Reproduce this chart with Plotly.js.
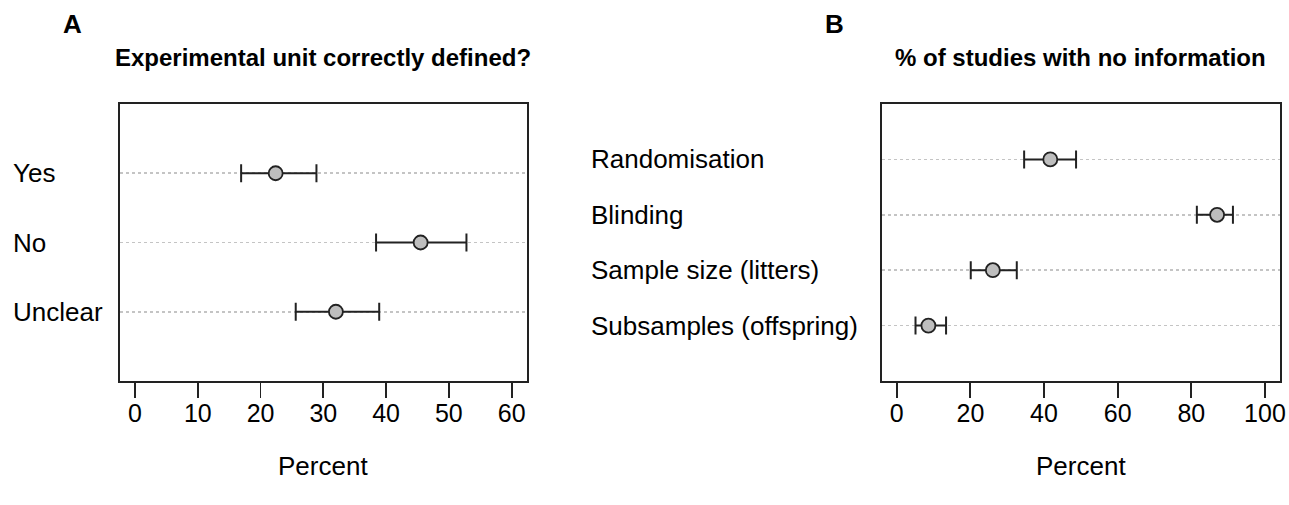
<!DOCTYPE html>
<html>
<head>
<meta charset="utf-8">
<script src="https://cdn.plot.ly/plotly-3.0.1.min.js"></script>
<style>html,body{margin:0;padding:0;background:#fff;}#chart{width:1289px;height:505px;}</style>
</head>
<body>
<div id="chart"></div>
<script>
// Panel A data
const catsA = ["Yes", "No", "Unclear"];
const estA = [22.4, 45.5, 32.0];
const lowA = [16.9, 38.4, 25.6];
const highA = [28.9, 52.8, 38.9];
const ticksA = [0, 10, 20, 30, 40, 50, 60];

// Panel B data
const catsB = ["Randomisation", "Blinding", "Sample size (litters)", "Subsamples (offspring)"];
const estB = [41.7, 87.0, 26.1, 8.6];
const lowB = [34.6, 81.5, 20.1, 5.1];
const highB = [48.7, 91.3, 32.6, 13.4];
const ticksB = [0, 20, 40, 60, 80, 100];

const titleA = "Experimental unit correctly defined?";
const titleB = "% of studies with no information";
const xTitle = "Percent";

const W = 1289, H = 505;
const FONT = '"Liberation Sans", Arial, Helvetica, sans-serif';
const LINE = '#222';

function trace(cats, est, low, high, xa, ya) {
  return {
    type: 'scatter', mode: 'markers',
    x: est, y: cats, xaxis: xa, yaxis: ya,
    error_x: {
      type: 'data', symmetric: false,
      array: est.map((v, i) => high[i] - v),
      arrayminus: est.map((v, i) => v - low[i]),
      color: LINE, thickness: 2, width: 9
    },
    marker: { symbol: 'circle', size: 14, color: '#bebebe', line: { color: LINE, width: 1.8 } },
    hoverinfo: 'none', showlegend: false
  };
}

const domY = [1 - 381 / H, 1 - 104 / H];
const domXA = [120 / W, 526.7 / W];
const domXB = [882 / W, 1279.7 / W];

function xaxis(dom, range, ticks, anchor) {
  return {
    domain: dom, range: range, anchor: anchor,
    tickmode: 'array', tickvals: ticks, ticktext: ticks.map(String),
    ticks: 'outside', ticklen: 15, tickwidth: 1.8, tickcolor: LINE,
    ticklabelstandoff: -6,
    showline: true, mirror: true, linecolor: LINE, linewidth: 2,
    showgrid: false, zeroline: false,
    tickfont: { family: FONT, size: 25, color: '#000' },
    fixedrange: true
  };
}
function yaxis(dom, cats, anchor) {
  return {
    domain: dom, anchor: anchor, type: 'category',
    categoryorder: 'array', categoryarray: cats,
    range: [cats.length, -1],
    showticklabels: false, ticks: '',
    showline: true, mirror: true, linecolor: LINE, linewidth: 2,
    showgrid: true, gridcolor: '#c4c4c4', gridwidth: 1.6, griddash: 'dot',
    zeroline: false, fixedrange: true
  };
}

const annotations = [];
catsA.forEach(c => annotations.push({
  xref: 'paper', yref: 'y', x: 11 / W, y: c, xanchor: 'left', yanchor: 'middle',
  text: c, showarrow: false, font: { family: FONT, size: 26, color: '#000' }
}));
catsB.forEach(c => annotations.push({
  xref: 'paper', yref: 'y2', x: 589 / W, y: c, xanchor: 'left', yanchor: 'middle',
  text: c, showarrow: false, font: { family: FONT, size: 26, color: '#000' }
}));
annotations.push(
  { xref: 'paper', yref: 'paper', x: (domXA[0] + domXA[1]) / 2, y: 1 - 58 / H, xanchor: 'center', yanchor: 'middle',
    text: '<b>' + titleA + '</b>', showarrow: false, font: { family: FONT, size: 24, color: '#000' } },
  { xref: 'paper', yref: 'paper', x: (domXB[0] + domXB[1]) / 2, y: 1 - 58 / H, xanchor: 'center', yanchor: 'middle',
    text: '<b>' + titleB + '</b>', showarrow: false, font: { family: FONT, size: 24, color: '#000' } },
  { xref: 'paper', yref: 'paper', x: 72 / W, y: 1 - 24 / H, xanchor: 'center', yanchor: 'middle',
    text: '<b>A</b>', showarrow: false, font: { family: FONT, size: 26, color: '#000' } },
  { xref: 'paper', yref: 'paper', x: 834 / W, y: 1 - 24 / H, xanchor: 'center', yanchor: 'middle',
    text: '<b>B</b>', showarrow: false, font: { family: FONT, size: 26, color: '#000' } },
  { xref: 'paper', yref: 'paper', x: (domXA[0] + domXA[1]) / 2, y: 1 - 466 / H, xanchor: 'center', yanchor: 'middle',
    text: xTitle, showarrow: false, font: { family: FONT, size: 26, color: '#000' } },
  { xref: 'paper', yref: 'paper', x: (domXB[0] + domXB[1]) / 2, y: 1 - 466 / H, xanchor: 'center', yanchor: 'middle',
    text: xTitle, showarrow: false, font: { family: FONT, size: 26, color: '#000' } }
);

const layout = {
  width: W, height: H,
  margin: { l: 0, r: 0, t: 0, b: 0 },
  paper_bgcolor: '#fff', plot_bgcolor: '#fff',
  font: { family: FONT, color: '#000' },
  xaxis: xaxis(domXA, [-2.4, 62.4], ticksA, 'y'),
  yaxis: yaxis(domY, catsA, 'x'),
  xaxis2: xaxis(domXB, [-4, 104], ticksB, 'y2'),
  yaxis2: yaxis(domY, catsB, 'x2'),
  annotations: annotations,
  showlegend: false
};

Plotly.newPlot('chart', [
  trace(catsA, estA, lowA, highA, 'x', 'y'),
  trace(catsB, estB, lowB, highB, 'x2', 'y2')
], layout, { staticPlot: true, displayModeBar: false });
</script>
</body>
</html>
